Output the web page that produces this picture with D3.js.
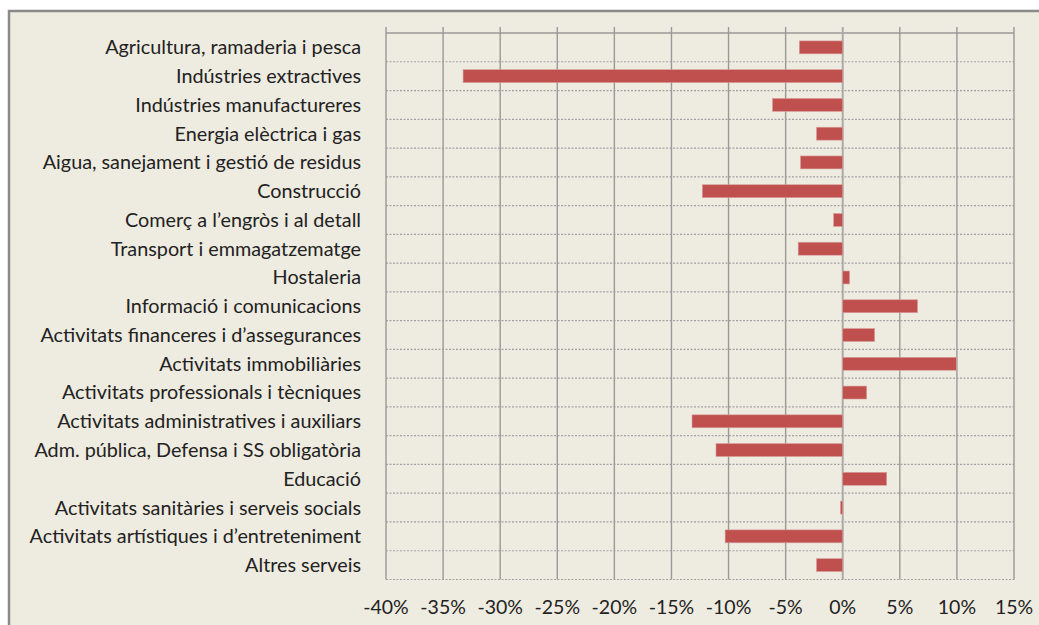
<!DOCTYPE html>
<html>
<head>
<meta charset="utf-8">
<script src="https://cdn.jsdelivr.net/npm/d3@7"></script>
<style>
  body { margin: 0; background: #fff; }
  text { font-family: Lato, "Open Sans", sans-serif; fill: #222; }
</style>
</head>
<body>
<div id="chart"></div>
<script>
// Sectors (top to bottom) and change values in %
const sectors = [
    "Agricultura, ramaderia i pesca",
    "Indústries extractives",
    "Indústries manufactureres",
    "Energia elèctrica i gas",
    "Aigua, sanejament i gestió de residus",
    "Construcció",
    "Comerç a l’engròs i al detall",
    "Transport i emmagatzematge",
    "Hostaleria",
    "Informació i comunicacions",
    "Activitats financeres i d’assegurances",
    "Activitats immobiliàries",
    "Activitats professionals i tècniques",
    "Activitats administratives i auxiliars",
    "Adm. pública, Defensa i SS obligatòria",
    "Educació",
    "Activitats sanitàries i serveis socials",
    "Activitats artístiques i d’entreteniment",
    "Altres serveis"
];
const values = [-3.8, -33.25, -6.15, -2.3, -3.7, -12.3, -0.8, -3.9, 0.6, 6.55, 2.8, 9.95, 2.1, -13.2, -11.1, 3.85, -0.2, -10.3, -2.3];
const tickValues = [-40, -35, -30, -25, -20, -15, -10, -5, 0, 5, 10, 15];

const W = 1039, H = 625;
const plot = { left: 386, right: 1014, top: 33, bottom: 579.5 };

const svg = d3.select("#chart")
    .append("svg")
    .attr("width", W)
    .attr("height", H);

// Chart frame
svg.append("rect")
    .attr("x", 9)
    .attr("y", 11)
    .attr("width", W + 10)
    .attr("height", H + 10)
    .attr("fill", "#eeebe0")
    .attr("stroke", "#8a8a8a")
    .attr("stroke-width", 2.5);

const x = d3.scaleLinear()
    .domain([-40, 15])
    .range([plot.left, plot.right]);

const y = d3.scaleBand()
    .domain(sectors)
    .range([plot.top, plot.bottom])
    .paddingInner(0.55)
    .paddingOuter(0.275);

const step = y.step();

// Horizontal dashed lines at category boundaries
svg.append("g")
    .selectAll("line")
    .data(sectors)
    .enter()
    .append("line")
    .attr("x1", plot.left)
    .attr("x2", plot.right)
    .attr("y1", d => y(d) - y.paddingOuter() * step + step)
    .attr("y2", d => y(d) - y.paddingOuter() * step + step)
    .attr("stroke", "#a3a3a3")
    .attr("stroke-width", 1.2)
    .attr("stroke-dasharray", "2,1.5");

// Top line
svg.append("line")
    .attr("x1", plot.left)
    .attr("x2", plot.right)
    .attr("y1", plot.top)
    .attr("y2", plot.top)
    .attr("stroke", "#999")
    .attr("stroke-width", 1.3);

// Vertical grid lines (with ticks above the plot)
svg.append("g")
    .selectAll("line")
    .data(tickValues)
    .enter()
    .append("line")
    .attr("x1", d => x(d))
    .attr("x2", d => x(d))
    .attr("y1", plot.top - 6)
    .attr("y2", plot.bottom)
    .attr("stroke", d => d === 0 ? "#aaa" : "#999")
    .attr("stroke-width", d => d === 0 ? 2 : 1.4);

// Bars
svg.append("g")
    .selectAll("rect")
    .data(values)
    .enter()
    .append("rect")
    .attr("x", d => x(Math.min(0, d)))
    .attr("width", d => Math.abs(x(d) - x(0)))
    .attr("y", (d, i) => y(sectors[i]))
    .attr("height", y.bandwidth())
    .attr("fill", "#c0504d")
    .attr("stroke", "#d9a09e")
    .attr("stroke-width", 0.6);

// Category labels
svg.append("g")
    .selectAll("text")
    .data(sectors)
    .enter()
    .append("text")
    .attr("x", 361)
    .attr("y", d => y(d) + y.bandwidth() / 2)
    .attr("dy", "0.35em")
    .attr("text-anchor", "end")
    .style("font-size", "19.8px")
    .text(d => d);

// Value axis labels
svg.append("g")
    .selectAll("text")
    .data(tickValues)
    .enter()
    .append("text")
    .attr("x", d => x(d))
    .attr("y", 607)
    .attr("dy", "0.35em")
    .attr("text-anchor", "middle")
    .style("font-size", "19.5px")
    .text(d => d + "%");
</script>
</body>
</html>
